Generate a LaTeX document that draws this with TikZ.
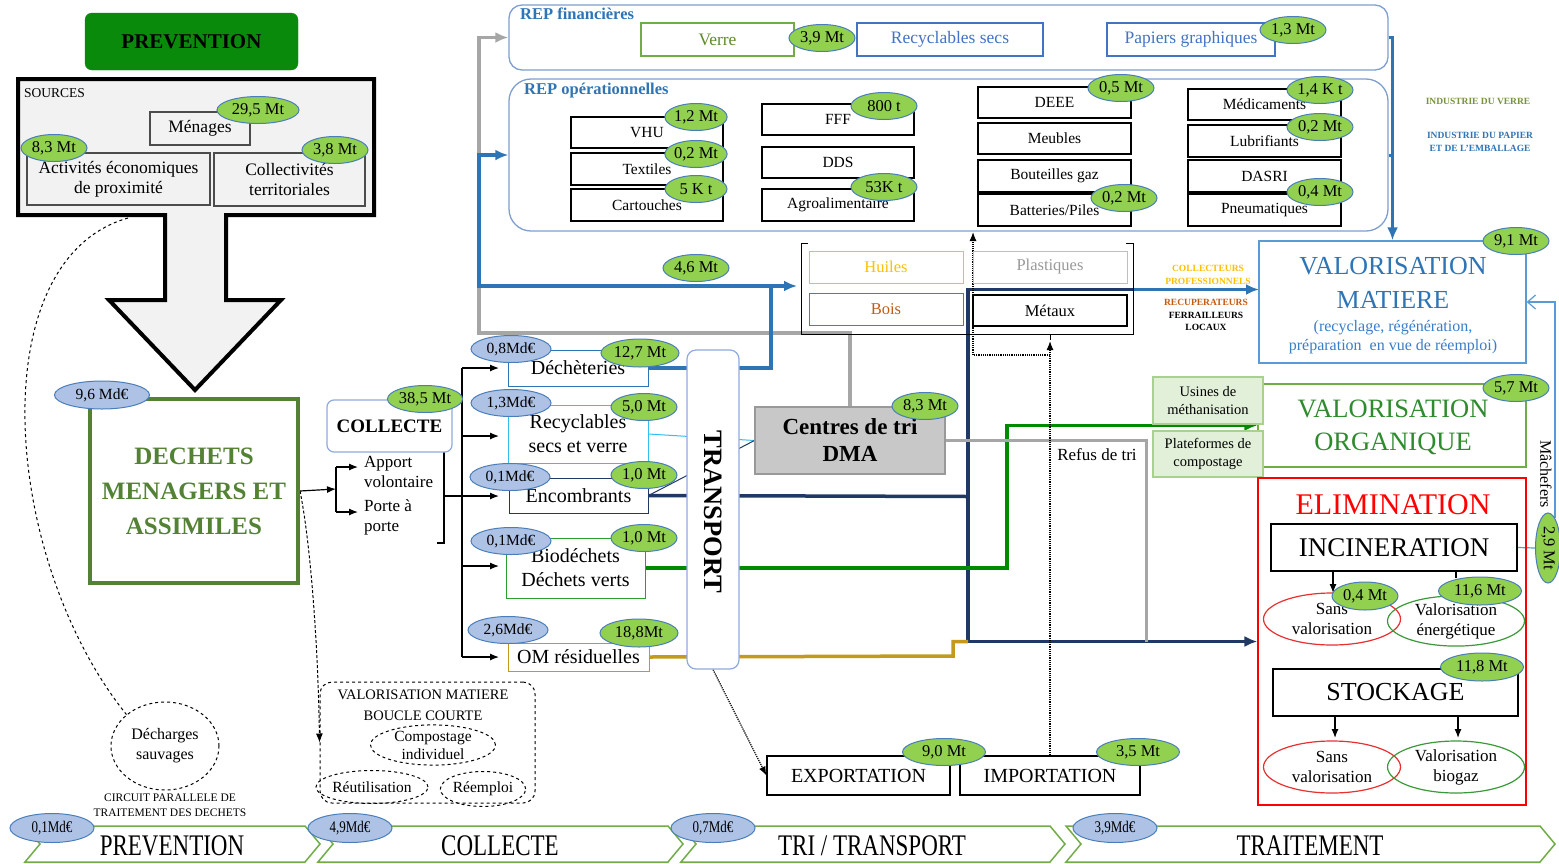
\documentclass[tikz,border=0pt]{standalone}
\usepackage{fontspec}
\usepackage{graphicx}
\setmainfont{Liberation Serif}
\usetikzlibrary{shapes.geometric,arrows.meta}
\pgfdeclarelayer{bg}
\pgfsetlayers{bg,main}
\newcommand{\fsb}[2]{\fontsize{#1}{#2}\selectfont}
\definecolor{ellG}{HTML}{92D050}
\definecolor{ellB}{HTML}{4A7EBB}
\definecolor{ellBl}{HTML}{ADC2E5}
\definecolor{prevG}{HTML}{0A8A0A}
\definecolor{dmaG}{HTML}{548235}
\definecolor{repB}{HTML}{2E75B6}
\definecolor{repBorder}{HTML}{7F9FCF}
\definecolor{lineBlue}{HTML}{2E75B6}
\definecolor{navy}{HTML}{203864}
\definecolor{gold}{HTML}{C49A1C}
\definecolor{lgray}{HTML}{A6A6A6}
\definecolor{lblue}{HTML}{33C0F0}
\definecolor{oliveG}{HTML}{70AD47}
\definecolor{verreT}{HTML}{5E8A30}
\definecolor{bleuT}{HTML}{4472C4}
\definecolor{huileY}{HTML}{FFC000}
\definecolor{boisO}{HTML}{C55A11}
\definecolor{orgG}{HTML}{2E8B2E}
\definecolor{srcF}{HTML}{F2F2F2}
\definecolor{centG}{HTML}{C8C8C8}
\definecolor{usineF}{HTML}{E2F0D9}
\definecolor{usineB}{HTML}{A9D18E}
\definecolor{transB}{HTML}{8FAADC}
\definecolor{bioG}{HTML}{2CA02C}
\definecolor{greenLine}{HTML}{008A00}
\definecolor{vmB}{HTML}{5B9BD5}
\definecolor{vmT}{HTML}{3A7DC9}
\definecolor{indG}{HTML}{77933C}
\definecolor{ellRed}{HTML}{E83030}
\definecolor{ellGreen}{HTML}{3A9A3A}
\begin{document}
\begin{tikzpicture}[x=1pt,y=-1pt,
 bx/.style={draw, rectangle, fill=white, inner sep=0pt, line width=1pt, align=center},
 opbx/.style={bx, draw=black, line width=1.2pt, minimum width=152pt, minimum height=31pt, font=\fsb{15.5}{18}},
 finbx/.style={bx, line width=1.2pt, minimum height=33pt, font=\fsb{17.5}{20}},
 gell/.style={ellipse, draw=ellB, fill=ellG, line width=1pt, inner sep=0pt, minimum height=27pt, font=\fsb{16.5}{18}},
 bell/.style={ellipse, draw=ellB, fill=ellBl, line width=1pt, inner sep=0pt, minimum height=27pt, font=\fsb{15.5}{17}},
 lbl/.style={inner sep=0pt, align=center},
 arr/.style={-{Latex[length=9pt,width=7pt]}},
 bigarr/.style={-{Latex[length=13pt,width=11pt]}},
 thk/.style={line width=3.5pt},
 dell/.style={ellipse, draw, dashed, line width=1pt, inner sep=0pt, align=center},
 chev/.style={draw=oliveG, line width=1.5pt, fill=white},
 resell/.style={ellipse, line width=1.2pt, inner sep=0pt, align=center, minimum width=137pt, minimum height=52pt, font=\fsb{17}{20}},
]
\useasboundingbox (0,0) rectangle (1559,863);

% ---------------- PREVENTION / SOURCES ----------------
\node[draw=prevG, fill=prevG, rounded corners=7pt, minimum width=213pt, minimum height=57pt, font=\bfseries\fsb{21}{24}] (prevtop) at (191.5,41.5) {PREVENTION};
\draw[line width=4pt, fill=srcF] (18,79) -- (374,79) -- (374,215) -- (226,215) -- (226,300) -- (281,300) -- (195,390) -- (109,300) -- (165,300) -- (165,215) -- (18,215) -- cycle;
\node[lbl, anchor=west, font=\fsb{13.5}{15}] (srclbl) at (24,93) {SOURCES};
\node[bx, fill=srcF, draw=black!70, line width=1.2pt, minimum width=100pt, minimum height=33pt, font=\fsb{17.5}{20}] (menages) at (200,128.5) {Ménages};
\node[bx, fill=srcF, draw=black!70, line width=1.2pt, minimum width=183pt, minimum height=52pt, font=\fsb{17.5}{20}] (activ) at (118.5,179) {Activités économiques\\de proximité};
\node[bx, fill=srcF, draw=black!70, line width=1.2pt, minimum width=151pt, minimum height=53pt, font=\fsb{17.5}{20}] (collec) at (289.5,179.5) {Collectivités\\territoriales};

% ---------------- DECHETS ----------------
\node[draw=dmaG, line width=4pt, fill=white, minimum width=208pt, minimum height=184pt, align=center, text=dmaG, font=\bfseries\fsb{25}{35}] (dechets) at (194,491) {DECHETS\\MENAGERS ET\\ASSIMILES};

\node[ellipse, draw, dashed, line width=1pt, minimum width=108pt, minimum height=88pt, inner sep=0pt, align=center, font=\fsb{16}{20}] (decharges) at (165,746) {Décharges\\sauvages};
\node[lbl, font=\fsb{11.5}{15}] (circuit) at (170,805) {CIRCUIT PARALLELE DE\\TRAITEMENT DES DECHETS};

\node[draw, dashed, rounded corners=12pt, line width=1pt, minimum width=215pt, minimum height=121pt] (vmbc) at (427.5,742.5) {};
\node[lbl, font=\fsb{14.5}{21}] (vmbcT) at (423,705.5) {VALORISATION MATIERE\\BOUCLE COURTE};
\node[dell, minimum width=125pt, minimum height=40pt, font=\fsb{15.5}{18}] (compost) at (433,745) {Compostage\\individuel};
\node[dell, minimum width=105pt, minimum height=33pt, font=\fsb{15.5}{18}] (reutil) at (372,787) {Réutilisation};
\node[dell, minimum width=78pt, minimum height=35pt, font=\fsb{15.5}{18}] (reemploi) at (483,789) {Réemploi};

% ---------------- COLLECTE ----------------
\node[draw=transB, fill=white, rounded corners=7pt, line width=1.2pt, minimum width=125pt, minimum height=52pt, font=\bfseries\fsb{19}{22}] (collecte) at (389.5,426) {COLLECTE};
\node[lbl, anchor=west, align=left, font=\fsb{17}{20}] (apport) at (364,472) {Apport\\volontaire};
\node[lbl, anchor=west, align=left, font=\fsb{17}{20}] (porte) at (364,517) {Porte à\\porte};

\node[bx, draw=lineBlue, minimum width=140pt, minimum height=36pt, font=\fsb{20}{24}] (dech) at (578,368) {Déchèteries};
\node[bx, draw=lblue, minimum width=140pt, minimum height=58pt, font=\fsb{20}{24}] (recy) at (578,434) {Recyclables\\secs et verre};
\node[bx, draw=navy, minimum width=139pt, minimum height=35pt, font=\fsb{20}{24}] (enc) at (578.5,495.5) {Encombrants};
\node[bx, draw=bioG, minimum width=139pt, minimum height=60pt, font=\fsb{20}{24}] (bio) at (575.5,568) {Biodéchets\\Déchets verts};
\node[bx, draw=gold, minimum width=141pt, minimum height=28pt, font=\fsb{20}{24}] (om) at (578.5,657) {OM résiduelles};

% ---------------- TRANSPORT / TRI ----------------
\node[draw=transB, fill=white, rounded corners=9pt, line width=1.2pt, minimum width=52pt, minimum height=319pt] (transport) at (713,509.5) {};
\node[lbl, rotate=-90, font=\bfseries\fsb{26.5}{30}] (transportT) at (713,512) {TRANSPORT};
\node[draw=black!40, fill=centG, line width=1.2pt, minimum width=190pt, minimum height=67pt, align=center, inner sep=0pt, font=\bfseries\fsb{23}{27}] (centres) at (850,440.5) {Centres de tri\\DMA};

\node[bx, draw=huileY, text=huileY, minimum width=154pt, minimum height=32pt, font=\fsb{16.5}{18}] (huiles) at (886,267) {Huiles};
\node[bx, draw=black!25, text=black!40, minimum width=154pt, minimum height=32pt, font=\fsb{16.5}{18}] (plast) at (1050,267) {Plastiques};
\node[bx, draw=boisO, text=boisO, minimum width=154pt, minimum height=32pt, font=\fsb{16.5}{18}] (bois) at (886,309) {Bois};
\node[bx, draw=black, line width=1.2pt, minimum width=154pt, minimum height=31pt, font=\fsb{16.5}{18}] (metaux) at (1050,310.5) {Métaux};

\node[lbl, text=huileY, font=\bfseries\fsb{9.5}{13}] (colpro) at (1208,274.5) {COLLECTEURS\\PROFESSIONNELS};
\node[lbl, font=\bfseries\fsb{9.5}{12.5}] (recup) at (1206,315) {\textcolor{boisO}{RECUPERATEURS}\\FERRAILLEURS\\LOCAUX};
\node[lbl, font=\fsb{17}{20}] (refus) at (1097,455) {Refus de tri};

\node[bx, line width=1.2pt, minimum width=183pt, minimum height=39pt, font=\fsb{20}{24}] (expo) at (858.5,775.5) {EXPORTATION};
\node[bx, line width=1.2pt, minimum width=180pt, minimum height=39pt, font=\fsb{20}{24}] (impo) at (1050,775.5) {IMPORTATION};

% ---------------- REP ----------------
\node[draw=repBorder, line width=1.3pt, rounded corners=13pt, minimum width=879pt, minimum height=65pt] (repfin) at (948.5,37.5) {};
\node[lbl, anchor=west, text=repB, font=\bfseries\fsb{16.5}{18}] (repfinT) at (520,14) {REP financières};
\node[finbx, draw=oliveG, text=verreT, minimum width=153pt] (verre) at (717.5,39.5) {Verre};
\node[finbx, draw=bleuT, text=bleuT, minimum width=186pt] (recsec) at (950,39.5) {Recyclables secs};
\node[finbx, draw=bleuT, text=bleuT, minimum width=168pt] (papiers) at (1191,39.5) {Papiers graphiques};

\node[draw=repBorder, line width=1.3pt, rounded corners=22pt, minimum width=879pt, minimum height=152pt] (repop) at (948.5,155) {};
\node[lbl, anchor=west, text=repB, font=\bfseries\fsb{16.5}{18}] (repopT) at (524,91) {REP opérationnelles};
\node[opbx] (vhu) at (647,132.5) {VHU};
\node[opbx, minimum height=32pt] (textiles) at (647,169) {Textiles};
\node[opbx, minimum height=32pt] (cartouches) at (647,205) {Cartouches};
\node[opbx] (fff) at (838,119.5) {FFF};
\node[opbx] (dds) at (838,162.5) {DDS};
\node[opbx, minimum height=32pt] (agro) at (838,205) {Agroalimentaire};
\node[opbx, minimum width=153pt] (deee) at (1054.5,102.5) {DEEE};
\node[opbx, minimum width=153pt] (meubles) at (1054.5,138.5) {Meubles};
\node[opbx, minimum width=153pt, minimum height=32pt] (bouteilles) at (1054.5,176) {Bouteilles gaz};
\node[opbx, minimum width=153pt, minimum height=32pt] (batteries) at (1054.5,210) {Batteries/Piles};
\node[opbx, minimum width=153pt] (medic) at (1264.5,104.5) {Médicaments};
\node[opbx, minimum width=153pt, minimum height=32pt] (lubri) at (1264.5,141) {Lubrifiants};
\node[opbx, minimum width=153pt, minimum height=32pt] (dasri) at (1264.5,176) {DASRI};
\node[opbx, minimum width=153pt, minimum height=32pt] (pneu) at (1264.5,210) {Pneumatiques};

\node[lbl, text=indG, font=\bfseries\fsb{9.5}{12}] (indverre) at (1478,101) {INDUSTRIE DU VERRE};
\node[lbl, text=repB, font=\bfseries\fsb{9.5}{13}] (indpap) at (1480,141.5) {INDUSTRIE DU PAPIER\\ET DE L'EMBALLAGE};

% ---------------- TRAITEMENT ----------------
\node[draw=vmB, line width=1.3pt, fill=white, minimum width=267pt, minimum height=122pt] (vm) at (1392.5,302) {};
\node[lbl, text=repB, font=\fsb{26}{30}] (vm1) at (1393,266) {VALORISATION};
\node[lbl, text=repB, font=\fsb{26}{30}] (vm2) at (1393,300) {MATIERE};
\node[lbl, text=vmT, font=\fsb{16}{19}] (vm3) at (1393,328) {(recyclage, régénération,};
\node[lbl, text=vmT, font=\fsb{16}{19}] (vm4) at (1393,347) {préparation\ \ en vue de réemploi)};

\node[draw=oliveG, line width=1.3pt, fill=white, minimum width=268pt, minimum height=83pt] (vo) at (1392,425.5) {};
\node[lbl, text=orgG, font=\fsb{26.5}{30}] (vo1) at (1393,409) {VALORISATION};
\node[lbl, text=orgG, font=\fsb{26.5}{30}] (vo2) at (1393,444) {ORGANIQUE};
\node[draw=usineB, fill=usineF, line width=1.3pt, minimum width=110pt, minimum height=47pt, inner sep=0pt, align=center, font=\fsb{14.5}{18}] (usines) at (1208,400.5) {Usines de\\méthanisation};
\node[draw=usineB, fill=usineF, line width=1.3pt, minimum width=110pt, minimum height=46pt, inner sep=0pt, align=center, font=\fsb{14.5}{18}] (plateformes) at (1208,454) {Plateformes de\\compostage};

\node[draw=red, line width=1.2pt, minimum width=268pt, minimum height=327pt] (elim) at (1392,641.5) {};
\node[lbl, text=red, font=\fsb{30}{34}] (elimT) at (1393,505) {ELIMINATION};
\node[bx, line width=1.5pt, minimum width=246pt, minimum height=47pt, font=\fsb{27}{30}] (incin) at (1394,547.5) {INCINERATION};
\node[bx, line width=1.5pt, minimum width=245pt, minimum height=47pt, font=\fsb{26}{30}] (stock) at (1395.5,692.5) {STOCKAGE};
\node[resell, draw=ellRed] (sv1) at (1332,619) {Sans\\valorisation};
\node[resell, draw=ellGreen, minimum height=48pt] (ve) at (1456,621) {Valorisation\\énergétique};
\node[resell, draw=ellRed] (sv2) at (1332,767) {Sans\\valorisation};
\node[resell, draw=ellGreen] (vb) at (1456,767) {Valorisation\\biogaz};
\node[lbl, rotate=-90, font=\fsb{16}{18}] (machT) at (1546,474) {Mâchefers};

% ---------------- bottom chevrons ----------------
\draw[chev] (25,826) -- (305,826) -- (320,844) -- (305,862) -- (25,862) -- (40,844) -- cycle;
\draw[chev] (318,826) -- (668,826) -- (683,844) -- (668,862) -- (318,862) -- (333,844) -- cycle;
\draw[chev] (681,826) -- (1050,826) -- (1065,844) -- (1050,862) -- (681,862) -- (696,844) -- cycle;
\draw[chev] (1066,826) -- (1540,826) -- (1555,844) -- (1540,862) -- (1066,862) -- (1081,844) -- cycle;
\node[lbl, font=\fsb{23}{26}] (chP) at (172,846) {\scalebox{1}[1.3]{PREVENTION}};
\node[lbl, font=\fsb{23}{26}] (chC) at (500,846) {\scalebox{1}[1.3]{COLLECTE}};
\node[lbl, font=\fsb{23}{26}] (chT) at (872,846) {\scalebox{1}[1.3]{TRI / TRANSPORT}};
\node[lbl, font=\fsb{23}{26}] (chR) at (1310,846) {\scalebox{1}[1.3]{TRAITEMENT}};

% ---------------- value ellipses ----------------
\node[gell, minimum width=82pt] (e295) at (258,110) {29,5 Mt};
\node[gell, minimum width=66pt] (e83a) at (54,148) {8,3 Mt};
\node[gell, minimum width=66pt] (e38) at (335,150) {3,8 Mt};
\node[bell, minimum width=95pt, minimum height=28pt] (e96) at (102,395) {9,6 Md€};
\node[gell, minimum width=75pt] (e385) at (425,399) {38,5 Mt};
\node[bell, minimum width=80pt] (b08) at (511,349) {0,8Md€};
\node[gell, minimum width=78pt, minimum height=28pt] (e127) at (640,353) {12,7 Mt};
\node[bell, minimum width=80pt] (b13) at (511,403) {1,3Md€};
\node[gell, minimum width=66pt] (e50) at (644,407) {5,0 Mt};
\node[bell, minimum width=80pt] (b01a) at (510,477) {0,1Md€};
\node[gell, minimum width=66pt] (e10a) at (644,475) {1,0 Mt};
\node[bell, minimum width=80pt] (b01b) at (511,541) {0,1Md€};
\node[gell, minimum width=66pt] (e10b) at (644,538) {1,0 Mt};
\node[bell, minimum width=80pt] (b26) at (508,630) {2,6Md€};
\node[gell, minimum width=78pt, minimum height=28pt] (e188) at (639,633) {18,8Mt};
\node[gell, minimum width=66pt] (e46) at (696,268) {4,6 Mt};
\node[gell, minimum width=66pt] (e83b) at (925,406) {8,3 Mt};
\node[gell, minimum width=66pt] (e39) at (822,38) {3,9 Mt};
\node[gell, minimum width=66pt] (e13) at (1293,30) {1,3 Mt};
\node[gell, minimum width=62pt] (e12) at (696,117) {1,2 Mt};
\node[gell, minimum width=62pt] (e02a) at (696,154) {0,2 Mt};
\node[gell, minimum width=62pt] (e5k) at (696,189) {5 K t};
\node[gell, minimum width=66pt] (e800) at (884,106) {800 t};
\node[gell, minimum width=66pt] (e53k) at (884,187) {53K t};
\node[gell, minimum width=66pt] (e05) at (1121,88) {0,5 Mt};
\node[gell, minimum width=66pt] (e02b) at (1124,198) {0,2 Mt};
\node[gell, minimum width=66pt] (e14k) at (1320,90) {1,4 K t};
\node[gell, minimum width=66pt] (e02c) at (1320,127) {0,2 Mt};
\node[gell, minimum width=66pt] (e04a) at (1320,192) {0,4 Mt};
\node[gell, minimum width=66pt] (e91) at (1516,241) {9,1 Mt};
\node[gell, minimum width=66pt] (e57) at (1516,388) {5,7 Mt};
\node[gell, minimum width=66pt, minimum height=28pt] (e04b) at (1365,596) {0,4 Mt};
\node[gell, minimum width=83pt, minimum height=28pt] (e116) at (1480,591) {11,6 Mt};
\node[gell, minimum width=83pt, minimum height=28pt] (e118) at (1482,667) {11,8 Mt};
\node[gell, minimum width=70pt, minimum height=25pt, rotate=-90] (e29) at (1548,548) {2,9 Mt};
\node[gell, minimum width=83pt] (e90) at (944,752) {9,0 Mt};
\node[gell, minimum width=83pt] (e35) at (1138,752) {3,5 Mt};
\node[bell, minimum width=84pt, minimum height=29pt, font=\fsb{13}{15}] (p01) at (52,828) {\scalebox{1}[1.25]{0,1Md€}};
\node[bell, minimum width=84pt, minimum height=29pt, font=\fsb{13}{15}] (p49) at (350,828) {\scalebox{1}[1.25]{4,9Md€}};
\node[bell, minimum width=84pt, minimum height=29pt, font=\fsb{13}{15}] (p07) at (713,828) {\scalebox{1}[1.25]{0,7Md€}};
\node[bell, minimum width=84pt, minimum height=29pt, font=\fsb{13}{15}] (p39) at (1115,828) {\scalebox{1}[1.25]{3,9Md€}};

% ---------------- connectors (background) ----------------
\begin{pgfonlayer}{bg}
\fill[white] (0,0) rectangle (1559,863);
% gray to REP financieres
\draw[lgray, thk, bigarr] (centres.north) -- (850,333) -- (479,333) -- (479,37.5) -- (repfin.west);
% blue dechetteries
\draw[lineBlue, thk, bigarr] (771,286) -- (479,286) -- (479,155) -- (repop.west);
\draw[lineBlue, thk, bigarr] (dech.east) -- (771,368) -- (771,286) -- (797,286);
% navy
\draw[navy, thk] (enc.east) -- (968,496.5);
\draw[navy, thk, bigarr] (1134,289.5) -- (968,289.5) -- (968,641.5) -- (elim.west);
\draw[lineBlue, line width=3pt, bigarr] (1134,289.5) -- (1259,289.5);
% gold
\draw[gold, thk] (om.east) -- (953,656) -- (953,641.5) -- (968,641.5);
% green
\draw[greenLine, thk, bigarr] (bio.east) -- (1007,568) -- (1007,425.5) -- (vo.west);
% thin
\draw[lblue, line width=1pt] (recy.east) -- (centres.west);
\draw[navy, line width=1pt] (enc.east) -- (centres.west);
% refus de tri
\draw[lgray, line width=3pt] (centres.east) -- (1146,440.5) -- (1146,641.5);
% bracket
\draw[line width=1pt] (808,243) -- (801,243) -- (801,334) -- (1133,334) -- (1133,243) -- (1126,243);
\draw[line width=1pt] (1050,334) -- (1050,340);
% dotted
\draw[densely dotted, line width=1.2pt, arr] (impo.north) -- (1050,341);
\draw[densely dotted, line width=1.2pt, arr] (1050,355) -- (973,355) -- (973,232);
\draw[densely dotted, line width=1.2pt, arr] (transport.south) -- (expo.west);
% REP -> VM
\draw[lineBlue, line width=3pt, bigarr] (repfin.east) -- (1392.5,37.5) -- (vm.north);
\draw[lineBlue, line width=3pt] (repop.east) -- (1392.5,155);
% machefers
\draw[vmB, line width=1.2pt] (incin.east) -- (e29.south);
\draw[vmB, line width=1.2pt, -{Straight Barb[length=8pt,width=14pt]}] (1555,518) -- (1555,302) -- (vm.east);
% elimination arrows
\draw[line width=1.2pt, arr] (1333,571) -- (1333,593);
\draw[line width=1.2pt] (1456,571) -- (1456,578);
\draw[line width=1.2pt, arr] (1335,716) -- (1335,738);
\draw[line width=1.2pt, arr] (1458,716) -- (1458,738);
% collecte branching
\draw[line width=1.2pt, arr] (dechets.east) -- (336,489);
\draw[line width=1.2pt] (336,467) -- (336,512);
\draw[line width=1.2pt, arr] (336,467) -- (358,467);
\draw[line width=1.2pt, arr] (336,512) -- (358,512);
\draw[line width=1.2pt] (437,451) -- (444,451) -- (444,543) -- (437,543);
\draw[line width=1.2pt] (444,496) -- (462,496);
\draw[line width=1.2pt] (462,368) -- (462,657);
\draw[line width=1.2pt, arr] (462,368) -- (499,368);
\draw[line width=1.2pt, arr] (462,436) -- (499,436);
\draw[line width=1.2pt, arr] (462,496) -- (499,496);
\draw[line width=1.2pt, arr] (462,566) -- (499,566);
\draw[line width=1.2pt, arr] (462,657) -- (499,657);
% dashed curves
\draw[dashed, line width=1pt] (128,218) .. controls (-20,260) and (2,560) .. (decharges.north west);
\draw[densely dashed, line width=1pt, arr] (dechets.east) .. controls (310,540) and (318,640) .. (vmbc.west);
\end{pgfonlayer}
\end{tikzpicture}
\end{document}
